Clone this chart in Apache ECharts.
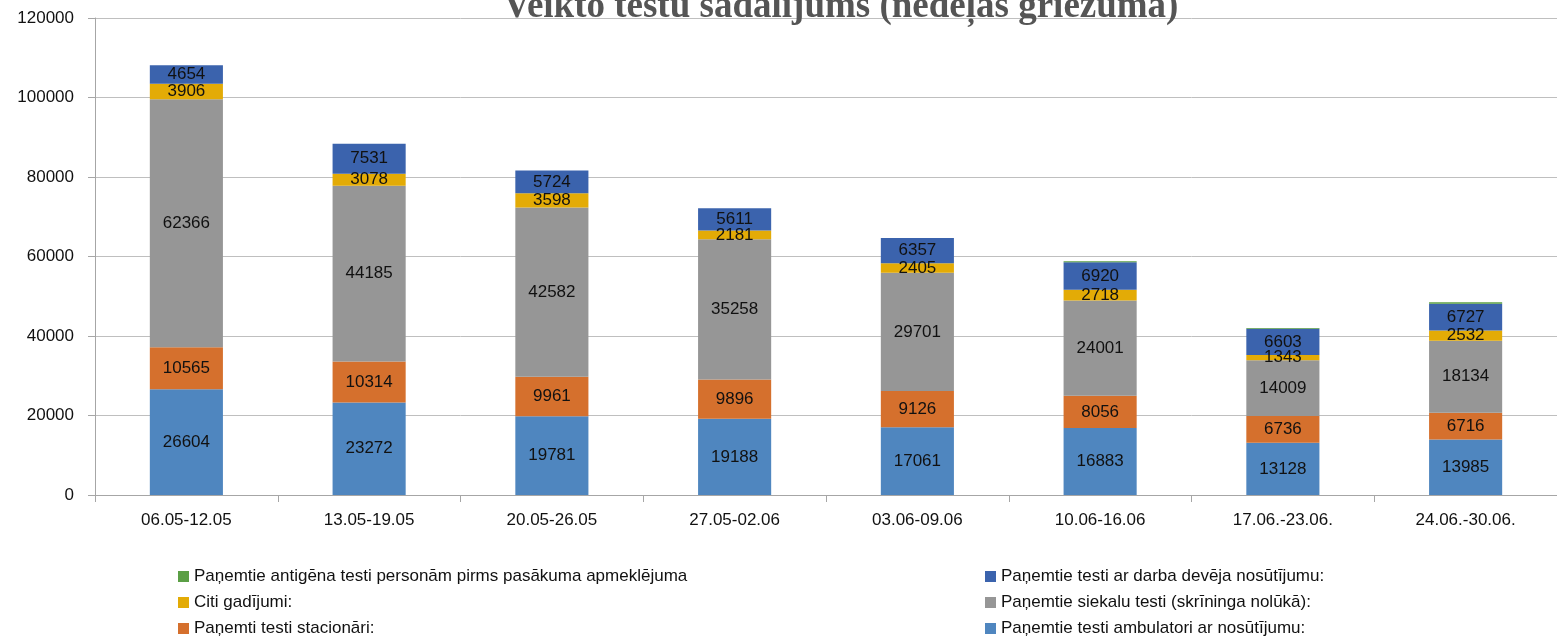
<!DOCTYPE html>
<html><head><meta charset="utf-8">
<script src="https://cdn.jsdelivr.net/npm/echarts@6/dist/echarts.min.js"></script>
<style>html,body{margin:0;padding:0;background:#fff}#c{width:1557px;height:640px}</style>
</head><body><div id="c"></div>
<script>
const categories = ['06.05-12.05','13.05-19.05','20.05-26.05','27.05-02.06','03.06-09.06','10.06-16.06','17.06.-23.06.','24.06.-30.06.'];
const ambulatori = [26604, 23272, 19781, 19188, 17061, 16883, 13128, 13985];
const stacionari = [10565, 10314, 9961, 9896, 9126, 8056, 6736, 6716];
const siekalu = [62366, 44185, 42582, 35258, 29701, 24001, 14009, 18134];
const citi = [3906, 3078, 3598, 2181, 2405, 2718, 1343, 2532];
const darba = [4654, 7531, 5724, 5611, 6357, 6920, 6603, 6727];
const antigena = [0, 0, 0, 0, 0, 250, 200, 400];
const yTicks = [0, 20000, 40000, 60000, 80000, 100000, 120000];

const names = {
  amb: 'Paņemtie testi ambulatori ar nosūtījumu:',
  sta: 'Paņemti testi stacionāri:',
  sie: 'Paņemtie siekalu testi (skrīninga nolūkā):',
  cit: 'Citi gadījumi:',
  dar: 'Paņemtie testi ar darba devēja nosūtījumu:',
  ant: 'Paņemtie antigēna testi personām pirms pasākuma apmeklējuma'
};
const colors = {amb:'#4f86bf', sta:'#d5702d', sie:'#969696', cit:'#e3ab06', dar:'#3b63ad', ant:'#5b9f45'};
const FONT = 'Liberation Sans, Arial, sans-serif';

function ser(key, data, showLabel) {
  return {
    name: names[key], type: 'bar', stack: 'a', data: data, barWidth: '40%',
    itemStyle: {color: colors[key]},
    label: {show: showLabel, position: 'inside', color: '#111', fontSize: 17,
            fontFamily: FONT, formatter: p => p.value > 0 ? String(p.value) : ''},
    emphasis: {disabled: true}
  };
}

const legendText = {fontSize: 17, color: '#111', fontFamily: FONT};
const chart = echarts.init(document.getElementById('c'), null, {renderer: 'canvas'});
chart.setOption({
  animation: false,
  title: {text: 'Veikto testu sadalījums (nedēļas griezumā)', left: 836, textAlign: 'center', top: -16,
    textStyle: {fontFamily: 'Liberation Serif, Times New Roman, serif', fontWeight: 'bold', fontSize: 37, color: '#555'}},
  grid: {left: 95, top: 18, width: 1476, height: 477, containLabel: false},
  legend: [
    {orient: 'vertical', left: 173, top: 563, height: 90, itemWidth: 11, itemHeight: 11, itemGap: 9, icon: 'rect',
     textStyle: legendText, data: [names.ant, names.cit, names.sta], selectedMode: false},
    {orient: 'vertical', left: 980, top: 563, height: 90, itemWidth: 11, itemHeight: 11, itemGap: 9, icon: 'rect',
     textStyle: legendText, data: [names.dar, names.sie, names.amb], selectedMode: false}
  ],
  xAxis: {type: 'category', data: categories,
    axisLine: {lineStyle: {color: '#a6a6a6'}},
    axisTick: {show: true, alignWithLabel: false, length: 7, lineStyle: {color: '#a6a6a6'}},
    axisLabel: {fontSize: 17, color: '#111', margin: 17, fontFamily: FONT}},
  yAxis: {type: 'value', min: 0, max: 120000, interval: 20000,
    axisLine: {show: true, lineStyle: {color: '#a6a6a6'}},
    axisTick: {show: true, length: 7, lineStyle: {color: '#a6a6a6'}},
    splitLine: {lineStyle: {color: '#bfbfbf'}},
    axisLabel: {fontSize: 17, color: '#111', margin: 21, fontFamily: FONT,
      formatter: v => yTicks.includes(v) ? String(v) : ''}},
  series: [
    ser('amb', ambulatori, true),
    ser('sta', stacionari, true),
    ser('sie', siekalu, true),
    ser('cit', citi, true),
    ser('dar', darba, true),
    ser('ant', antigena, false)
  ]
});
</script></body></html>
